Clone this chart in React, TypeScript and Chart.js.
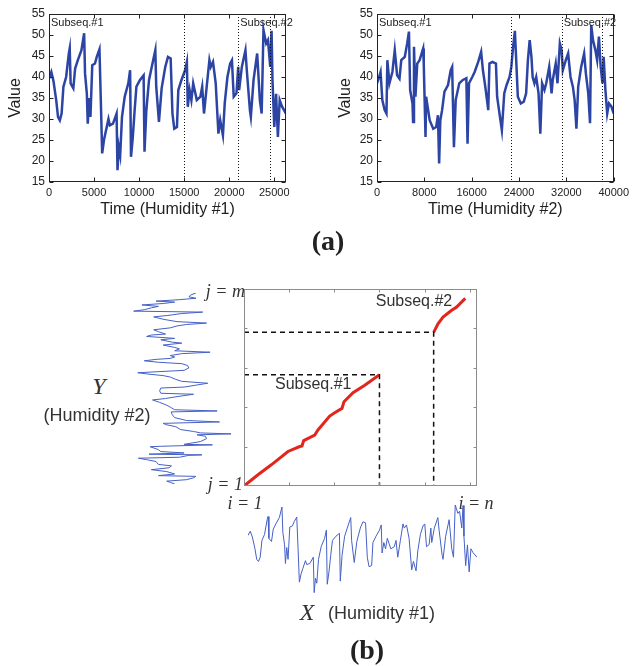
import React, { useEffect, useRef } from "react";
import { Chart, registerables } from "chart.js";

Chart.register(...registerables);
Chart.defaults.font.family = "'Liberation Sans', Arial, sans-serif";

// ---- Humidity #1 (sample index, value) ----
const H1_TIME = [0, 260, 500, 800, 1000, 1200, 1400, 1600, 1900, 2200, 2300, 2400, 2700, 2900, 3200, 3600, 3900, 4000, 4200, 4300, 4450, 4600, 4800, 5100, 5300, 5600, 5750, 5900, 6100, 6300, 6600, 6750, 7100, 7500, 7600, 7750, 7900, 8100, 8400, 8800, 9000, 9100, 9300, 9500, 9700, 10100, 10500, 10600, 10800, 11100, 11400, 11800, 11900, 12200, 12500, 12900, 13200, 13500, 13700, 13900, 14200, 14350, 14700, 15100, 15300, 15400, 15600, 15800, 16000, 16400, 16800, 17000, 17200, 17500, 17800, 17950, 18200, 18500, 18800, 19000, 19300, 19500, 19800, 20100, 20300, 20500, 20800, 21000, 21100, 21400, 21800, 21950, 22300, 22400, 22700, 23100, 23400, 23600, 23800, 24100, 24300, 24550, 24700, 24800, 25000, 25200, 25400, 25600, 25850, 26300];
const H1_VALUE = [39.6, 41.2, 39, 34.5, 30.5, 29.7, 31.3, 37.7, 40, 45.6, 46.8, 38.5, 37.3, 42, 44, 46.4, 50.4, 40.8, 36, 28.9, 35, 30.5, 42.8, 43.2, 44.8, 46.6, 34.5, 21.8, 25, 27, 30, 28.5, 28.9, 31.3, 17.8, 23.3, 21.4, 30.5, 35.3, 38.5, 41.6, 21, 25.7, 32, 37.7, 39.3, 40.4, 22.2, 32, 39.3, 42.4, 46.4, 37.7, 29.3, 37.3, 42.4, 44.8, 44.4, 31.3, 27.7, 28.1, 36.9, 39.3, 41.6, 43.6, 32.9, 36.9, 34.5, 38.5, 34.5, 35.3, 37.7, 31.3, 37.7, 44, 42.4, 43.6, 38.5, 26.5, 29.7, 26.1, 33.7, 40, 43.2, 44, 35.3, 36.1, 42.4, 36.9, 42.4, 46.4, 41.6, 32, 30.5, 39.3, 45.6, 34.5, 31.3, 51.2, 48, 48.8, 42.4, 51, 39.3, 28.1, 36, 25.7, 34.5, 33, 31.3];

// ---- Humidity #2 (sample index, value) ----
const H2_TIME = [0, 350, 600, 900, 1300, 1600, 1750, 2100, 2600, 3000, 3400, 3800, 4100, 4700, 5100, 5400, 5600, 6000, 6100, 6250, 6500, 6800, 7200, 7800, 7900, 8200, 8300, 8900, 9500, 10000, 10300, 10500, 10700, 11000, 11400, 12000, 12450, 12700, 13000, 13300, 13900, 14500, 15100, 15300, 15550, 16100, 16500, 17100, 17600, 17900, 18300, 18800, 19000, 19500, 20100, 20300, 20700, 21100, 21500, 21900, 22400, 22700, 23000, 23300, 23500, 23800, 24300, 24800, 25200, 25500, 25800, 26100, 26300, 26600, 26900, 27300, 27600, 27900, 28300, 28600, 29100, 29500, 29700, 30200, 30500, 30900, 31200, 31400, 31900, 32300, 32700, 33100, 33400, 33700, 34000, 34500, 35000, 35300, 35700, 36000, 36200, 36500, 36900, 37200, 37500, 37800, 38100, 38300, 38600, 38900, 39200, 39600, 40000];
const H2_VALUE = [38.5, 40, 41.2, 34.5, 32.1, 31.3, 44, 38.5, 41.2, 46.4, 40.4, 39.6, 44, 44.8, 48, 50.8, 36.9, 33.7, 29.3, 47.2, 35.3, 43.2, 44, 46.8, 43.2, 25.7, 35.3, 29.7, 27.7, 28.1, 30.9, 19.4, 29.7, 32.1, 36.5, 38.1, 41.6, 42.4, 23.3, 34.5, 38.5, 39.3, 39.7, 24.1, 38.5, 40, 41.2, 43.6, 46, 41.6, 37.7, 32.1, 43.2, 43.6, 43.2, 35.3, 31.3, 27.3, 36.1, 38.1, 40, 42.4, 47.2, 51, 44.8, 35.3, 33.7, 34.1, 36.1, 44, 48.8, 44.8, 40, 38.5, 40, 36.1, 26.5, 38.5, 36.9, 38.5, 42.4, 36.1, 39.3, 43.2, 38.5, 48, 46.4, 41.6, 44, 45.6, 40, 37.7, 34.5, 27.7, 37.7, 42.4, 45.6, 40.8, 36.1, 29, 52.4, 48.8, 46.4, 44, 49.6, 42.4, 38.5, 44.8, 36.9, 31.3, 33.7, 33, 31.3];

// ---- axes / ticks ----
const VALUE_TICKS = [15, 20, 25, 30, 35, 40, 45, 50, 55];
const H1_TICKS = [0, 5000, 10000, 15000, 20000, 25000];
const H2_TICKS = [0, 8000, 16000, 24000, 32000, 40000];
const H1_MAX = 26300;
const H2_MAX = 40000;
const H1_MARKERS = [15000, 21000, 24500];
const H2_MARKERS = [22600, 31200, 38100];
const SUBSEQ_LABELS = ["Subseq.#1", "Subseq.#2"];

// ---- warping path (i on Humidity #1, j on Humidity #2) ----
const WARP_I_MAX = 25800;
const WARP_J_MAX = 40000;
const WARP_I_TICKS = [5000, 10000, 15000, 20000, 25000];
const WARP_J_TICKS = [8000, 16000, 24000, 32000];
const PATH1_I = [0, 1550, 3025, 4870, 6170, 6420, 6610, 7830, 8190, 9490, 10040, 10850, 11070, 12070, 13370, 15000];
const PATH1_J = [0, 2280, 4300, 7010, 8020, 8140, 9230, 10360, 11370, 14200, 14890, 15760, 17110, 18930, 20470, 22600];
const PATH2_I = [21000, 21480, 22040, 22960, 23510, 24500];
const PATH2_J = [31200, 32930, 34280, 35620, 36300, 38100];

const pts = (xs: number[], ys: number[]) =>
  xs.slice(0, Math.min(xs.length, ys.length)).map((x, k) => ({ x, y: ys[k] }));

function makeFrame(cfg: any) {
  return {
    id: "frame",
    afterDatasetsDraw(chart: any) {
      const { ctx, chartArea: a, scales } = chart;
      const xs = scales.x, ys = scales.y;
      ctx.save();
      if (cfg.markers) {
        ctx.strokeStyle = "#111";
        ctx.lineWidth = 1;
        ctx.setLineDash([1, 2]);
        for (const v of cfg.markers) {
          const p = Math.round(xs.getPixelForValue(v)) + 0.5;
          ctx.beginPath();
          ctx.moveTo(p, a.top);
          ctx.lineTo(p, a.bottom);
          ctx.stroke();
        }
        ctx.setLineDash([]);
      }
      const L = Math.round(a.left) + 0.5, R = Math.round(a.right) - 0.5;
      const T = Math.round(a.top) + 0.5, B = Math.round(a.bottom) - 0.5;
      ctx.strokeStyle = cfg.color;
      ctx.lineWidth = 1;
      ctx.strokeRect(L, T, R - L, B - T);
      const len = cfg.tickLen;
      ctx.beginPath();
      for (const v of cfg.xTicks) {
        const p = Math.round(xs.getPixelForValue(v)) + 0.5;
        ctx.moveTo(p, B); ctx.lineTo(p, B - len);
        ctx.moveTo(p, T); ctx.lineTo(p, T + len);
      }
      for (const v of cfg.yTicks) {
        const p = Math.round(ys.getPixelForValue(v)) + 0.5;
        ctx.moveTo(L, p); ctx.lineTo(L + len, p);
        ctx.moveTo(R, p); ctx.lineTo(R - len, p);
      }
      ctx.stroke();
      if (cfg.labels) {
        ctx.fillStyle = cfg.labelColor;
        ctx.font = cfg.labelFont;
        ctx.textBaseline = "middle";
        for (const lb of cfg.labels) {
          ctx.textAlign = lb.align || "left";
          ctx.fillText(lb.text, xs.getPixelForValue(lb.x) + (lb.dx || 0), ys.getPixelForValue(lb.y) + (lb.dy || 0));
        }
      }
      ctx.restore();
    },
  };
}

function seriesConfig(times: number[], values: number[], xMax: number, xTicks: number[], markers: number[], title: string, padLeft: number, padRight: number, yTitlePad: number) {
  return {
    type: "line",
    data: {
      datasets: [{
        data: pts(times, values),
        borderColor: "#2c44a4",
        borderWidth: 2.5,
        pointRadius: 0,
        tension: 0,
      }],
    },
    options: {
      responsive: false,
      animation: false,
      events: [],
      layout: { padding: { left: padLeft, top: 14, right: padRight, bottom: 0 } },
      plugins: { legend: { display: false }, tooltip: { enabled: false } },
      scales: {
        x: {
          type: "linear", min: 0, max: xMax,
          afterBuildTicks: (s: any) => { s.ticks = xTicks.map((v) => ({ value: v })); },
          afterFit: (s: any) => { s.height = 48; },
          grid: { display: false, drawTicks: false },
          border: { display: false },
          ticks: { font: { size: 11 }, color: "#222", padding: 4, maxRotation: 0, autoSkip: false, callback: (v: any) => String(v) },
          title: { display: true, text: title, font: { size: 16 }, color: "#222", padding: { top: 0, bottom: 11 } },
        },
        y: {
          type: "linear", min: 15, max: 55,
          afterBuildTicks: (s: any) => { s.ticks = VALUE_TICKS.map((v) => ({ value: v })); },
          afterFit: (s: any) => { s.width = 49; },
          grid: { display: false, drawTicks: false },
          border: { display: false },
          ticks: { font: { size: 12 }, color: "#222", padding: 4, autoSkip: false, callback: (v: any) => String(v) },
          title: { display: true, text: "Value", font: { size: 16 }, color: "#222", padding: { top: yTitlePad, bottom: 0 } },
        },
      },
    },
    plugins: [makeFrame({
      markers, color: "#222", tickLen: 4, xTicks, yTicks: VALUE_TICKS,
      labelColor: "#222", labelFont: "11px 'Liberation Sans', Arial, sans-serif",
      labels: [
        { text: SUBSEQ_LABELS[0], x: 0, y: 55, dx: 2, dy: 9 },
        { text: SUBSEQ_LABELS[1], x: markers[1], y: 55, dx: 2, dy: 9 },
      ],
    })],
  };
}

function warpConfig() {
  const red = { borderColor: "#e2261c", borderWidth: 3, pointRadius: 0, showLine: true, tension: 0 };
  const dash = { borderColor: "#111", borderWidth: 1.5, borderDash: [5, 4], pointRadius: 0, showLine: true };
  const e1i = PATH1_I[PATH1_I.length - 1], e1j = PATH1_J[PATH1_J.length - 1];
  const s2i = PATH2_I[0], s2j = PATH2_J[0];
  const e2i = PATH2_I[PATH2_I.length - 1], e2j = PATH2_J[PATH2_J.length - 1];
  return {
    type: "scatter",
    data: {
      datasets: [
        { ...dash, data: [{ x: 0, y: e1j }, { x: e1i, y: e1j }, { x: e1i, y: 0 }] },
        { ...dash, data: [{ x: 0, y: s2j }, { x: s2i, y: s2j }, { x: s2i, y: 0 }] },
        { ...red, data: pts(PATH1_I, PATH1_J) },
        { ...red, data: pts(PATH2_I, PATH2_J) },
      ],
    },
    options: {
      responsive: false,
      animation: false,
      events: [],
      layout: { padding: { left: 6, top: 6, right: 7, bottom: 7 } },
      plugins: { legend: { display: false }, tooltip: { enabled: false } },
      scales: {
        x: { type: "linear", min: 0, max: WARP_I_MAX, display: false },
        y: { type: "linear", min: 0, max: WARP_J_MAX, display: false },
      },
    },
    plugins: [makeFrame({
      color: "#8c8c8c", tickLen: 3, xTicks: WARP_I_TICKS, yTicks: WARP_J_TICKS,
      labelColor: "#333", labelFont: "16px 'Liberation Sans', Arial, sans-serif",
      labels: [
        { text: SUBSEQ_LABELS[0], x: e1i, y: e1j, dx: -28, dy: 10, align: "right" },
        { text: SUBSEQ_LABELS[1], x: e2i, y: e2j, dx: -13, dy: 3, align: "right" },
      ],
    })],
  };
}

function thinConfig(data: any[], xs: any, ys: any, pad: any) {
  return {
    type: "scatter",
    data: { datasets: [{ data, borderColor: "#4560c6", borderWidth: 1, pointRadius: 0, showLine: true, tension: 0 }] },
    options: {
      responsive: false,
      animation: false,
      events: [],
      layout: { padding: pad },
      plugins: { legend: { display: false }, tooltip: { enabled: false } },
      scales: { x: { ...xs, type: "linear", display: false }, y: { ...ys, type: "linear", display: false } },
    },
  };
}

function ChartBox({ left, top, width, height, make }: any) {
  const ref = useRef<HTMLCanvasElement>(null);
  useEffect(() => {
    const chart = new Chart(ref.current as HTMLCanvasElement, make());
    return () => chart.destroy();
  }, []);
  return (
    <canvas ref={ref} width={width} height={height}
      style={{ position: "absolute", left, top, width, height, display: "block" }} />
  );
}

function Label({ x, y, align = "center", style, children }: any) {
  const tx = align === "center" ? "-50%" : align === "right" ? "-100%" : "0";
  return (
    <div style={{
      position: "absolute", left: x, top: y, transform: `translate(${tx}, -50%)`,
      whiteSpace: "nowrap", lineHeight: 1, color: "#222", ...style,
    }}>{children}</div>
  );
}

const SERIF_IT = { fontFamily: "'Liberation Serif', 'Times New Roman', serif", fontStyle: "italic", color: "#333" };
const SANS = { fontFamily: "'Liberation Sans', Arial, sans-serif" };
const BOLD_SERIF = { fontFamily: "'Liberation Serif', 'Times New Roman', serif", fontWeight: "bold", fontSize: 28 };

export default function App() {
  return (
    <div style={{ position: "absolute", left: 0, top: 0, width: 633, height: 666, background: "#fff", overflow: "hidden" }}>
      <ChartBox left={0} top={0} width={316} height={230}
        make={() => seriesConfig(H1_TIME, H1_VALUE, H1_MAX, H1_TICKS, H1_MARKERS, "Time (Humidity #1)", 0, 30, 6)} />
      <ChartBox left={316} top={0} width={317} height={230}
        make={() => seriesConfig(H2_TIME, H2_VALUE, H2_MAX, H2_TICKS, H2_MARKERS, "Time (Humidity #2)", 12, 19, 8)} />
      <Label x={328} y={241} style={BOLD_SERIF}>(a)</Label>

      <ChartBox left={118} top={286} width={130} height={204}
        make={() => thinConfig(pts(H2_VALUE, H2_TIME), { min: 15, max: 55, reverse: true }, { min: 0, max: H2_MAX }, { left: 8, top: 7, right: 4, bottom: 6 })} />
      <ChartBox left={240} top={490} width={246} height={114}
        make={() => thinConfig(pts(H1_TIME, H1_VALUE), { min: 0, max: H1_MAX }, { min: 15, max: 55 }, { left: 8, top: 5, right: 9, bottom: 4 })} />
      <ChartBox left={238} top={283} width={246} height={210} make={warpConfig} />

      <Label x={245} y={291} align="right" style={{ ...SERIF_IT, fontSize: 18 }}>j = m</Label>
      <Label x={243} y={484} align="right" style={{ ...SERIF_IT, fontSize: 18 }}>j = 1</Label>
      <Label x={245} y={503} style={{ ...SERIF_IT, fontSize: 18 }}>i = 1</Label>
      <Label x={476} y={503} style={{ ...SERIF_IT, fontSize: 18 }}>i = n</Label>
      <Label x={99} y={386} style={{ ...SERIF_IT, fontSize: 24 }}>Y</Label>
      <Label x={97} y={415} style={{ ...SANS, fontSize: 18, color: "#333" }}>(Humidity #2)</Label>
      <Label x={307} y={612} style={{ ...SERIF_IT, fontSize: 24 }}>X</Label>
      <Label x={328} y={613} align="left" style={{ ...SANS, fontSize: 18, color: "#333" }}>(Humidity #1)</Label>
      <Label x={367} y={650} style={BOLD_SERIF}>(b)</Label>
    </div>
  );
}
